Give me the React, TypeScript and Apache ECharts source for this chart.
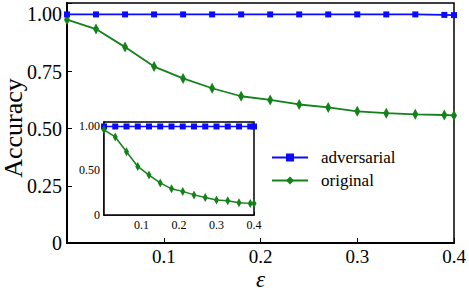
import React, { useEffect, useRef } from "react";
import * as echarts from "echarts";

const epsValues = [0, 0.03, 0.06, 0.09, 0.12, 0.15, 0.18, 0.21, 0.24, 0.27, 0.3, 0.33, 0.36, 0.39, 0.4];
const mainAdversarial = [1.0, 1.0, 1.0, 1.0, 1.0, 1.0, 1.0, 1.0, 1.0, 1.0, 1.0, 1.0, 1.0, 0.998, 0.997];
const mainOriginal = [0.977, 0.936, 0.857, 0.772, 0.72, 0.677, 0.642, 0.626, 0.606, 0.593, 0.576, 0.568, 0.563, 0.56, 0.558];
const insetAdversarial = [0.99, 0.99, 0.99, 0.99, 0.99, 0.99, 0.99, 0.99, 0.99, 0.99, 0.99, 0.99, 0.99, 0.99, 0.99];
const insetOriginal = [0.953, 0.873, 0.707, 0.543, 0.446, 0.359, 0.293, 0.264, 0.225, 0.196, 0.167, 0.159, 0.138, 0.13, 0.128];
const seriesNames = ["adversarial", "original"];
const xLabel = "ε";
const yLabel = "Accuracy";

const BLUE = "#0a0aff";
const GREEN = "#13821a";
const FONT = "Liberation Serif";

const pairs = (ys: number[]) => epsValues.map((x, i) => [x, ys[i]]);

export default function App() {
  const ref = useRef<HTMLDivElement>(null);
  useEffect(() => {
    if (!ref.current) return;
    const chart = echarts.init(ref.current, null, { renderer: "svg" });
    const onQuarter = (v: number) => Math.abs(v / 0.25 - Math.round(v / 0.25)) < 1e-6;
    const onHalf = (v: number) => Math.abs(v / 0.5 - Math.round(v / 0.5)) < 1e-6;
    chart.setOption({
      animation: false,
      backgroundColor: "#fff",
      grid: [
        { left: 67, right: 15, top: 3, bottom: 47, containLabel: false, outerBoundsMode: "none", show: true, borderColor: "#000", borderWidth: 1.5, backgroundColor: "transparent" },
        { left: 104, right: 215, top: 122, bottom: 75, containLabel: false, outerBoundsMode: "none", show: true, borderColor: "#000", borderWidth: 1.5, backgroundColor: "#fff", z: 5 },
      ],
      xAxis: [
        {
          type: "value", gridIndex: 0, min: 0, max: 0.4, interval: 0.1,
          name: xLabel, nameLocation: "middle", nameGap: 26, nameMoveOverlap: false,
          nameTextStyle: { fontFamily: FONT, fontSize: 23, lineHeight: 20, fontStyle: "italic", color: "#000" },
          axisLine: { lineStyle: { color: "#000", width: 2 } },
          axisTick: { inside: true, length: 5, lineStyle: { color: "#000" } },
          splitLine: { show: false },
          axisLabel: { fontFamily: FONT, fontSize: 19, color: "#000", margin: 4, formatter: (v: number) => (v === 0 ? "" : v.toFixed(1)) },
        },
        {
          type: "value", gridIndex: 1, min: 0, max: 0.4, interval: 0.1,
          axisLine: { lineStyle: { color: "#000", width: 1.5 } },
          axisTick: { inside: true, length: 3, lineStyle: { color: "#000" } },
          splitLine: { show: false },
          axisLabel: { fontFamily: FONT, fontSize: 12, color: "#000", margin: 4, formatter: (v: number) => (v === 0 ? "" : v.toFixed(1)) },
        },
      ],
      yAxis: [
        {
          type: "value", gridIndex: 0, min: 0, max: 1.05, interval: 0.25,
          name: yLabel, nameLocation: "middle", nameGap: 41, nameMoveOverlap: false,
          nameTextStyle: { fontFamily: FONT, fontSize: 26, color: "#000", padding: [0, 10, 0, 0] },
          axisLine: { lineStyle: { color: "#000", width: 2 } },
          axisTick: { inside: true, length: 5, lineStyle: { color: "#000" } },
          splitLine: { show: false },
          axisLabel: {
            fontFamily: FONT, fontSize: 20, color: "#000", margin: 5,
            formatter: (v: number) => (!onQuarter(v) ? "" : v === 0 ? "0" : v.toFixed(2)),
          },
        },
        {
          type: "value", gridIndex: 1, min: 0, max: 1.04, interval: 0.5,
          axisLine: { lineStyle: { color: "#000", width: 1.5 } },
          axisTick: { inside: true, length: 3, lineStyle: { color: "#000" } },
          splitLine: { show: false },
          axisLabel: {
            fontFamily: FONT, fontSize: 12, color: "#000", margin: 4,
            formatter: (v: number) => (!onHalf(v) ? "" : v === 0 ? "0" : v.toFixed(2)),
          },
        },
      ],
      legend: {
        data: seriesNames,
        orient: "vertical",
        left: 266,
        top: 144,
        itemWidth: 36,
        itemHeight: 10,
        itemGap: 6,
        textStyle: { fontFamily: FONT, fontSize: 17, color: "#000", padding: [0, 0, 0, 8] },
      },
      series: [
        {
          name: seriesNames[0], type: "line", xAxisIndex: 0, yAxisIndex: 0,
          data: pairs(mainAdversarial), symbol: "rect", symbolSize: 6,
          lineStyle: { color: BLUE, width: 1.8 }, itemStyle: { color: BLUE }, z: 3,
        },
        {
          name: seriesNames[1], type: "line", xAxisIndex: 0, yAxisIndex: 0,
          data: pairs(mainOriginal), symbol: "diamond", symbolSize: [6, 11],
          lineStyle: { color: GREEN, width: 1.8 }, itemStyle: { color: GREEN }, z: 2,
        },
        {
          name: "adversarial ", type: "line", xAxisIndex: 1, yAxisIndex: 1,
          data: pairs(insetAdversarial), symbol: "rect", symbolSize: 6,
          lineStyle: { color: BLUE, width: 1.5 }, itemStyle: { color: BLUE }, z: 6,
        },
        {
          name: "original ", type: "line", xAxisIndex: 1, yAxisIndex: 1,
          data: pairs(insetOriginal), symbol: "diamond", symbolSize: [5, 9],
          lineStyle: { color: GREEN, width: 1.5 }, itemStyle: { color: GREEN }, z: 6,
        },
      ],
    });
    return () => chart.dispose();
  }, []);
  return <div ref={ref} style={{ width: 469, height: 290, position: "absolute", left: 0, top: 0 }} />;
}
